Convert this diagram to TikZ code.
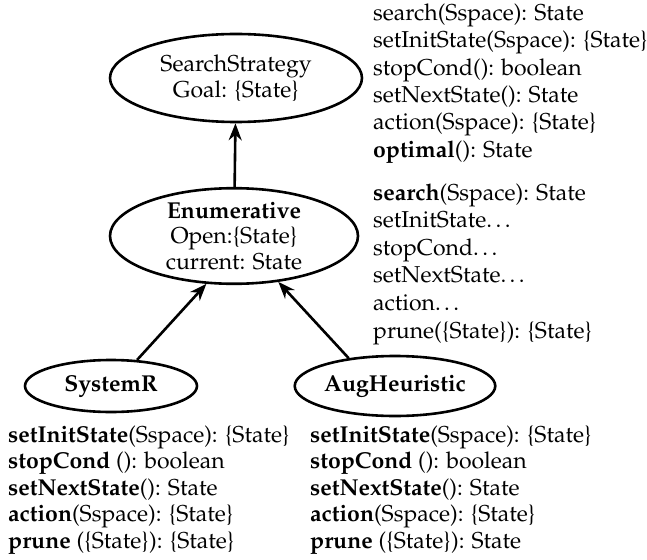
\documentclass[tikz,border=0pt]{standalone}
\usepackage[T1]{fontenc}
\usepackage{palatino}
\usetikzlibrary{arrows.meta,shapes.geometric}
\tikzset{
  cls/.style={ellipse, draw=black, line width=2.6pt, inner sep=0pt,
              align=center, font=\fontsize{23}{25.5}\selectfont},
  ops/.style={anchor=base west, inner sep=0pt, align=left,
              font=\fontsize{23}{26.5}\selectfont},
  inh/.style={-{Stealth[length=17pt,width=13pt]}, line width=2.6pt},
}
\begin{document}
\begin{tikzpicture}[x=1pt, y=-1pt]
  \useasboundingbox (0,0) rectangle (647,559);
  % classes
  \node[cls, minimum width=252pt, minimum height=88pt] (ss) at (236,78)
    {SearchStrategy\\Goal: \{State\}};
  \node[cls, minimum width=248pt, minimum height=95pt] (en) at (234,236)
    {\textbf{Enumerative}\\Open:\{State\}\\current: State};
  \node[cls, minimum width=172pt, minimum height=52pt] (sr) at (111,386)
    {\textbf{SystemR}};
  \node[cls, minimum width=172pt, minimum height=60pt] (ah) at (395,386)
    {\textbf{AugHeuristic}};
  % inheritance
  \draw[inh] (en) -- (ss);
  \draw[inh] (sr.45) -- (en.240);
  \draw[inh] (ah.149) -- (en.314);
  % operations (placed at the baseline of their last line)
  \node[ops, font=\fontsize{23}{27.3}\selectfont] (ssops) at (373,157) {search(Sspace): State\\
    setInitState(Sspace): \{State\}\\
    stopCond(): boolean\\
    setNextState(): State\\
    action(Sspace): \{State\}\\
    \textbf{optimal}(): State};
  \node[ops, font=\fontsize{23}{27.6}\selectfont] (enops) at (373,338) {\textbf{search}(Sspace): State\\
    setInitState\ldots\\
    stopCond\ldots\\
    setNextState\ldots\\
    action\ldots\\
    prune(\{State\}): \{State\}};
  \node[ops] (srops) at (8,548) {\textbf{setInitState}(Sspace): \{State\}\\
    \textbf{stopCond} (): boolean\\
    \textbf{setNextState}(): State\\
    \textbf{action}(Sspace): \{State\}\\
    \textbf{prune} (\{State\}): \{State\}};
  \node[ops] (ahops) at (310,548) {\textbf{setInitState}(Sspace): \{State\}\\
    \textbf{stopCond} (): boolean\\
    \textbf{setNextState}(): State\\
    \textbf{action}(Sspace): \{State\}\\
    \textbf{prune} (\{State\}): State};
\end{tikzpicture}
\end{document}
